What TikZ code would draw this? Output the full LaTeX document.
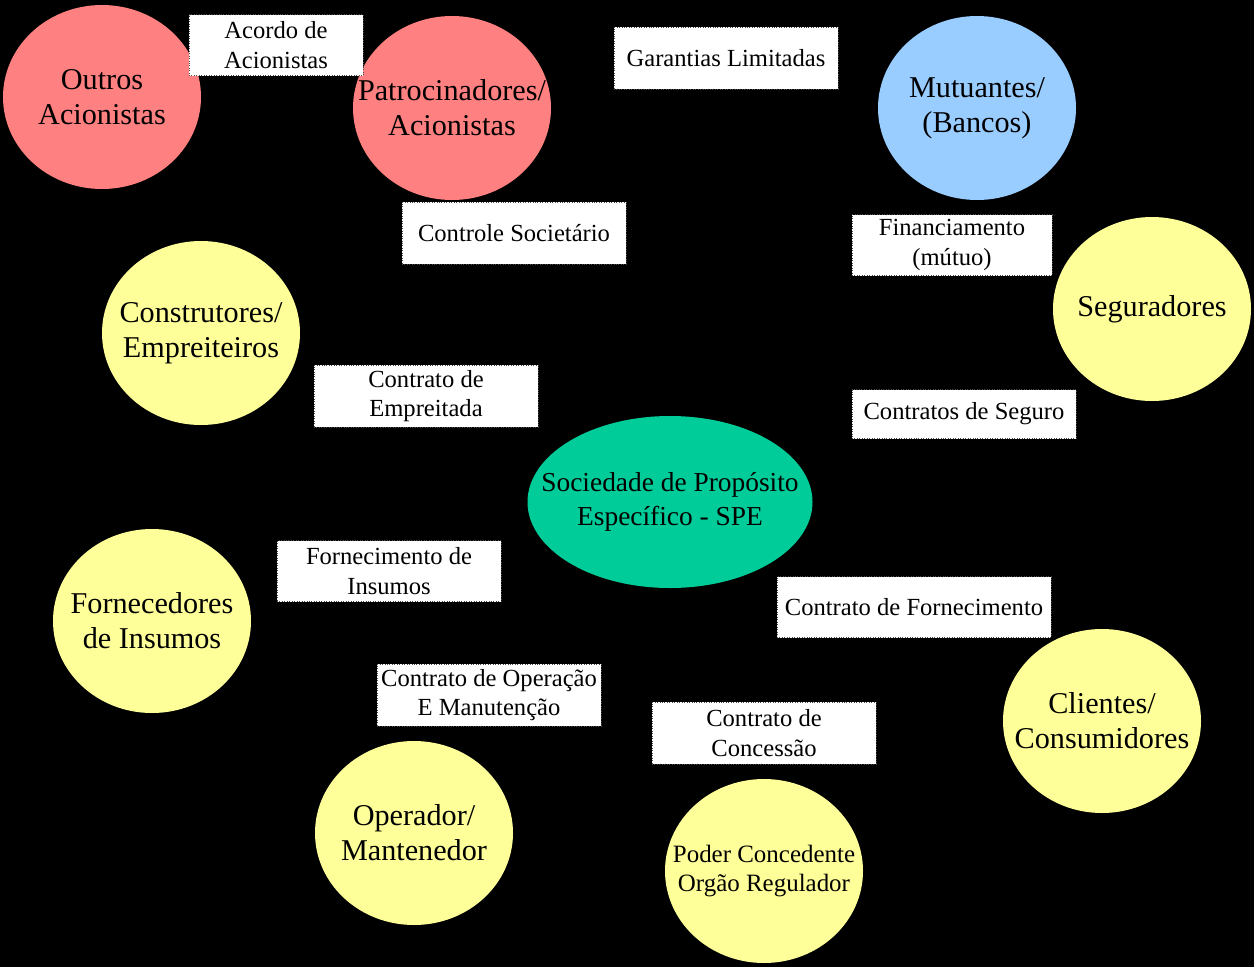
\documentclass[tikz,border=0pt]{standalone}
\usepackage{fontspec}
\setmainfont{Liberation Serif}
\usepackage{tikz}
\usetikzlibrary{shapes,positioning,calc}

\definecolor{partyred}{HTML}{FF8080}
\definecolor{bankblue}{HTML}{99CCFF}
\definecolor{agentyellow}{HTML}{FFFF99}
\definecolor{spegreen}{HTML}{00CC99}

\newcommand{\unitpx}{*0.02cm}
\tikzset{
  party/.style={ellipse,minimum width=198\unitpx,minimum height=184\unitpx,
                inner sep=-0.7cm,align=center,font=\fontsize{17.2}{19.8}\selectfont},
  contract/.style={draw=black!70,densely dotted,fill=white,inner sep=0pt,
                   align=center,font=\fontsize{14}{16.8}\selectfont}
}

\begin{document}
\begin{tikzpicture}[x=0.02cm,y=-0.02cm]
  % Background
  \fill[black] (0,0) rectangle (1254,967);
  \useasboundingbox (0,0) rectangle (1254,967);

  % Parties
  \node[party,fill=partyred] (outros) at (102,97) {Outros\\Acionistas};
  \node[party,fill=partyred] (patro) at (452,108) {Patrocinadores/\\Acionistas};
  \node[party,fill=bankblue] (mutu) at (977,108) {Mutuantes/\\(Bancos)};
  \node[party,fill=agentyellow] (segur) at (1152,309) {Seguradores};
  \node[party,fill=agentyellow] (constr) at (201,333) {Construtores/\\Empreiteiros};
  \node[party,fill=agentyellow] (forn) at (152,621) {Fornecedores\\de Insumos};
  \node[party,fill=agentyellow] (clien) at (1102,721) {Clientes/\\Consumidores};
  \node[party,fill=agentyellow] (oper) at (414,833) {Operador/\\Mantenedor};
  \node[party,fill=agentyellow,font=\fontsize{14.2}{17}\selectfont] (poder) at (764,871)
       {Poder Concedente\\Org\~ao Regulador};

  % SPE
  \node[party,fill=spegreen,minimum width=285\unitpx,minimum height=172\unitpx,
        font=\fontsize{15.6}{19}\selectfont] (spe) at (670,502)
       {Sociedade de Prop\'osito\\Espec\'ifico - SPE};

  % Contracts
  \node[contract,minimum width=174\unitpx,minimum height=61\unitpx] (acordo) at (276,45)
       {Acordo de\\Acionistas};
  \node[contract,minimum width=224\unitpx,minimum height=62\unitpx] (garant) at (726,58)
       {Garantias Limitadas};
  \node[contract,minimum width=224\unitpx,minimum height=62\unitpx] (controle) at (514,233)
       {Controle Societ\'ario};
  \node[contract,minimum width=200\unitpx,minimum height=61\unitpx] (financ) at (952,245)
       {Financiamento\\(m\'utuo)};
  \node[contract,minimum width=224\unitpx,minimum height=62\unitpx] (empreit) at (426,396)
       {Contrato de\\Empreitada};
  \node[contract,minimum width=224\unitpx,minimum height=49\unitpx] (seguro) at (964,414)
       {Contratos de Seguro};
  \node[contract,minimum width=224\unitpx,minimum height=61\unitpx] (insumos) at (389,571)
       {Fornecimento de\\Insumos};
  \node[contract,minimum width=274\unitpx,minimum height=61\unitpx] (fornec) at (914,607)
       {Contrato de Fornecimento};
  \node[contract,minimum width=224\unitpx,minimum height=62\unitpx] (operac) at (489,695)
       {Contrato de Opera\c{c}\~ao\\E Manuten\c{c}\~ao};
  \node[contract,minimum width=224\unitpx,minimum height=62\unitpx] (concess) at (764,733)
       {Contrato de\\Concess\~ao};
\end{tikzpicture}
\end{document}
